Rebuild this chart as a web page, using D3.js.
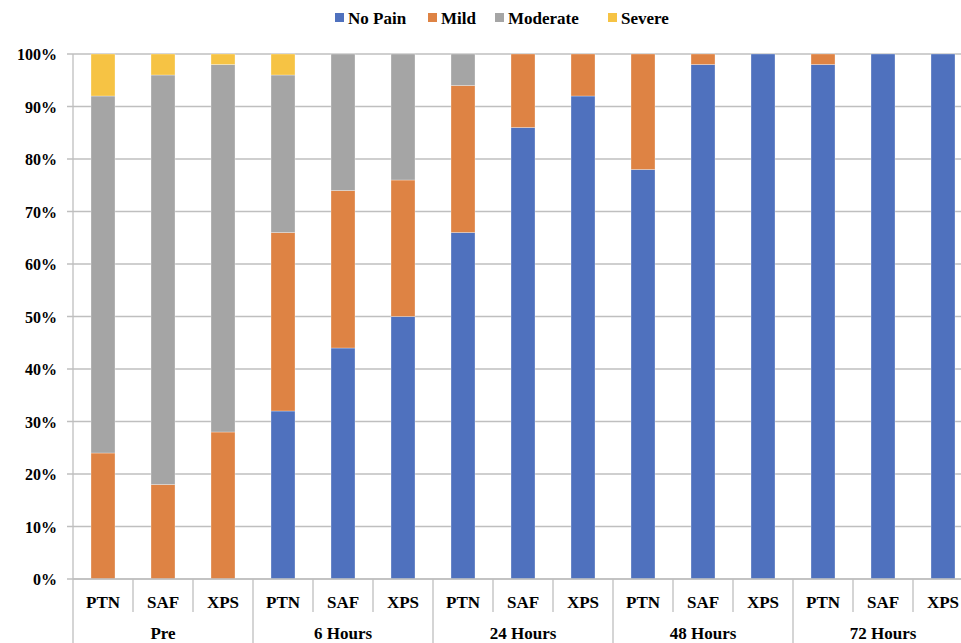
<!DOCTYPE html>
<html><head><meta charset="utf-8">
<script src="https://cdn.jsdelivr.net/npm/d3@7"></script>
<style>body{margin:0;background:#fff;overflow:hidden}svg{display:block}
svg text{font-family:"Liberation Serif","Times New Roman","DejaVu Serif","Liberation Sans",serif;font-weight:bold;font-size:16px;fill:#000}</style>
</head><body><svg id="c" width="961" height="643"></svg>
<script>
const groups = ["Pre","6 Hours","24 Hours","48 Hours","72 Hours"];
const methods = ["PTN","SAF","XPS"];
const series = ["No Pain","Mild","Moderate","Severe"];
const colors = ["#4F71BE","#DE8344","#A5A5A5","#F6C344"];
// values per bar in order Pre PTN, Pre SAF, Pre XPS, 6h PTN, ...
const noPain   = [0,0,0, 32,44,50, 66,86,92, 78,98,100, 98,100,100];
const mild     = [24,18,28, 34,30,26, 28,14,8, 22,2,0, 2,0,0];
const moderate = [68,78,70, 30,26,24, 6,0,0, 0,0,0, 0,0,0];
const severe   = [8,4,2, 4,0,0, 0,0,0, 0,0,0, 0,0,0];
const yTicks = [0,10,20,30,40,50,60,70,80,90,100];

(function(){
const svg = d3.select("#c");
const pL = 73, pR = 973, pT = 54, pB = 579;
const cats = [];
groups.forEach(g => methods.forEach(m => cats.push(g + "|" + m)));
const x = d3.scaleBand().domain(cats).range([pL, pR]).paddingInner(0.6).paddingOuter(0.3);
const step = (pR-pL)/cats.length;
const y = d3.scaleLinear().domain([0,100]).range([pB, pT]);

// gridlines
svg.append("g").selectAll("line").data(yTicks).join("line")
  .attr("x1", pL-6).attr("x2", pR).attr("y1", d=>y(d)).attr("y2", d=>y(d))
  .attr("stroke", "#BFBFBF").attr("stroke-width", 1.3);
// y labels
svg.append("g").selectAll("text").data(yTicks).join("text")
  .attr("x", 57).attr("y", d=>y(d)+6).attr("text-anchor","end")
  .text(d=>d+"%");

// stacked bars
const data = cats.map((c,i)=>({cat:c, "No Pain":noPain[i], "Mild":mild[i], "Moderate":moderate[i], "Severe":severe[i]}));
const stack = d3.stack().keys(series)(data);
svg.append("g").selectAll("g").data(stack).join("g")
  .attr("fill", (d,i)=>colors[i])
  .selectAll("rect").data(d=>d).join("rect")
  .attr("x", d=>x(d.data.cat)).attr("width", x.bandwidth())
  .attr("y", d=>y(d[1])).attr("height", d=>y(d[0])-y(d[1]))
  .attr("stroke", "#fff").attr("stroke-opacity", 0.5).attr("stroke-width", 0.6);

// axes lines
svg.append("line").attr("x1", pL).attr("x2", pL).attr("y1", pT).attr("y2", 643)
  .attr("stroke", "#BFBFBF").attr("stroke-width", 1.3);
svg.append("line").attr("x1", pL).attr("x2", pR).attr("y1", pB).attr("y2", pB)
  .attr("stroke", "#BFBFBF").attr("stroke-width", 1.3);
// category separators
svg.append("g").selectAll("line").data(d3.range(1, cats.length)).join("line")
  .attr("x1", d=>pL+d*step).attr("x2", d=>pL+d*step)
  .attr("y1", pB).attr("y2", d=> d%3===0 ? 643 : 612)
  .attr("stroke", "#BFBFBF").attr("stroke-width", 1.3);
// category labels
svg.append("g").selectAll("text").data(cats).join("text")
  .attr("x", d=>x(d)+x.bandwidth()/2).attr("y", 608).attr("text-anchor","middle")
  .style("font-size","17px")
  .text(d=>d.split("|")[1]);
// group labels
svg.append("g").selectAll("text").data(groups).join("text")
  .attr("x", (d,i)=>pL+(i*3+1.5)*step).attr("y", 639).attr("text-anchor","middle")
  .style("font-size","17px")
  .text(d=>d);

// legend
const legX = [335, 428, 495, 608];
const leg = svg.append("g").selectAll("g").data(series).join("g")
  .attr("transform", (d,i)=>`translate(${legX[i]},18)`);
leg.append("rect").attr("x",0).attr("y",-5).attr("width",9).attr("height",9).attr("fill",(d,i)=>colors[i]);
leg.append("text").attr("x",13).attr("y",6).style("font-size","17px").text(d=>d);
})();
</script></body></html>
